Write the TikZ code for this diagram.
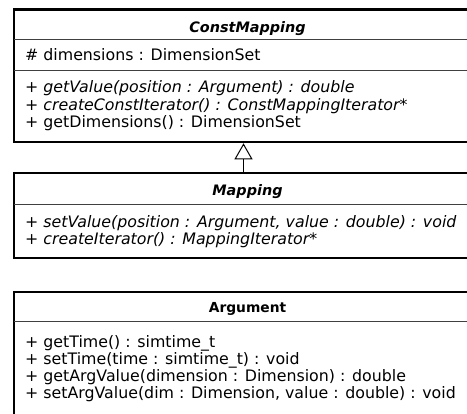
\documentclass[tikz,border=0pt]{standalone}
\usepackage{fontspec}
\setmainfont{DejaVu Sans}
\usetikzlibrary{arrows.meta}
\begin{document}
\begin{tikzpicture}[x=1pt,y=-1pt,
  classbox/.style={draw, line width=2.6pt, inner sep=0pt, outer sep=0pt, anchor=north west, minimum width=467pt},
  sepline/.style={draw=black!75, line width=1pt},
  member/.style={anchor=base west, inner sep=0pt, font=\fontsize{15.8}{17}\selectfont},
  amember/.style={member, font=\fontsize{15.8}{17}\selectfont\itshape},
  ctitle/.style={anchor=base, inner sep=0pt, font=\fontsize{14.4}{17}\selectfont\bfseries\itshape},
  ptitle/.style={anchor=base, inner sep=0pt, font=\fontsize{13.8}{17}\selectfont\bfseries},
  generalization/.style={line width=1pt, -{Triangle[open, length=16pt, width=18pt, line width=1pt]}}
]
\useasboundingbox (0,0) rectangle (467,414);
\clip (0,0) rectangle (467,414);

% ConstMapping
\node[classbox, minimum height=132.3pt] (cm) at (14,9.7) {};
\draw[sepline] (cm.west |- 0,39.5) -- (cm.east |- 0,39.5);
\draw[sepline] (cm.west |- 0,71) -- (cm.east |- 0,71);
\node[ctitle] (cmt) at (cm.center |- 0,33) {ConstMapping};
\node[member] (cma) at (25,60.7) {\# dimensions : DimensionSet};
\node[amember] (cm1) at (25,93) {+ getValue(position : Argument) : double};
\node[amember] (cm2) at (25,110.5) {+ createConstIterator() : ConstMappingIterator*};
\node[member] (cm3) at (25,127.5) {+ getDimensions() : DimensionSet};

% Mapping
\node[classbox, minimum height=85pt] (m) at (14,173) {};
\draw[sepline] (m.west |- 0,205) -- (m.east |- 0,205);
\node[ctitle] (mt) at (m.center |- 0,195.5) {Mapping};
\node[amember] (m1) at (25,228) {+ setValue(position : Argument, value : double) : void};
\node[amember] (m2) at (25,244.5) {+ createIterator() : MappingIterator*};

% Argument
\node[classbox, minimum height=140pt] (arg) at (14,292) {};
\draw[sepline] (arg.west |- 0,322) -- (arg.east |- 0,322);
\node[ptitle] (argt) at (arg.center |- 0,312.5) {Argument};
\node[member] (a1) at (25,348) {+ getTime() : simtime\_t};
\node[member] (a2) at (25,365) {+ setTime(time : simtime\_t) : void};
\node[member] (a3) at (25,382) {+ getArgValue(dimension : Dimension) : double};
\node[member] (a4) at (25,399) {+ setArgValue(dim : Dimension, value : double) : void};

% generalization
\coordinate (ax) at (243.5,0);
\draw[generalization] (m.north -| ax) -- ([yshift=-1.3pt]cm.south -| ax);
\end{tikzpicture}
\end{document}
